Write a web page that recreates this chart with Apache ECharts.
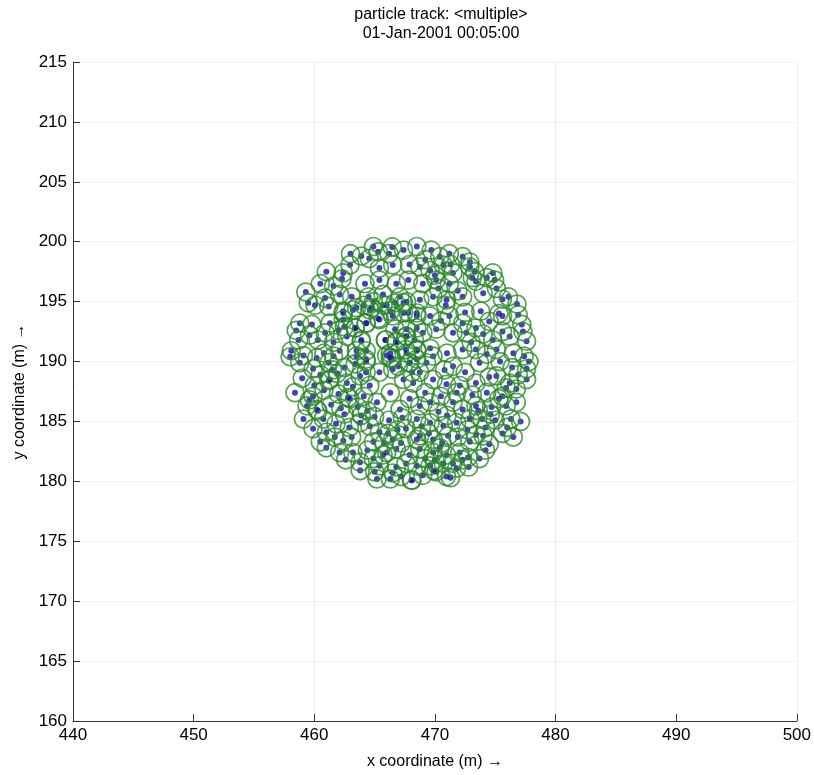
<!DOCTYPE html>
<html>
<head>
<meta charset="utf-8">
<script src="https://cdn.jsdelivr.net/npm/echarts@6/dist/echarts.min.js"></script>
<style>
html,body{margin:0;padding:0;background:#fff;}
#chart{width:814px;height:775px;}
</style>
</head>
<body>
<div id="chart"></div>
<script>
// Chart text
const titleLines = ['particle track: <multiple>', '01-Jan-2001 00:05:00'];
const xAxisName = 'x coordinate (m) \u2192';
const yAxisName = 'y coordinate (m) \u2192';

// Axis ranges / ticks
const xRange = [440, 500];
const xTickStep = 10;
const xGridStep = 20;
const yRange = [160, 215];
const yTickStep = 5;

// Particle positions
const particleX = [
466.46,465.3,467.4,464.56,463.9,465.4,466.5,462.96,462.4,461.6,460.5,464.2,465.4,466.8,467.8,
462.1,463.1,464.5,465.7,467.1,459.5,460.06,461.2,462.4,463.5,464.6,466.0,467.4,
458.8,459.8,461.3,462.4,463.4,464.3,465.4,466.5,467.8,458.7,458.1,460.3,461.6,462.7,463.9,465.9,466.8,467.6,
459.1,460.8,462.1,463.5,466.0,467.6,
468.5,469.7,470.4,472.3,468.75,469.6,470.7,471.5,472.9,469.0,470.1,471.2,473.4,474.95,
468.75,469.85,470.96,472.3,474.0,475.1,476.1,468.5,469.6,471.2,472.3,473.4,474.5,475.6,476.9,477.2,
469.0,470.1,471.5,472.6,474.0,474.8,476.2,477.6,468.5,469.6,471.0,472.3,473.4,475.1,476.5,
458.0,458.8,460.2,461.6,463.5,464.3,466.3,467.9,458.4,459.9,461.3,462.7,463.8,464.6,465.4,466.5,467.4,468.2,
459.1,460.2,460.75,462.0,462.95,464.1,465.2,466.3,467.1,467.9,459.9,461.0,462.4,463.8,464.9,465.4,466.5,467.6,468.5,
461.0,462.1,463.2,463.8,464.9,466.0,466.8,467.9,463.8,465.2,466.3,467.2,465.4,466.8,468.1,
468.5,469.85,471.5,473.7,475.4,477.4,475.1,476.2,477.6,468.75,469.85,470.96,472.06,473.4,474.3,475.6,476.75,
468.75,469.6,470.5,471.5,472.3,473.4,474.7,475.9,476.75,468.5,469.6,470.7,471.8,472.9,473.9,475.0,475.6,
468.75,469.85,471.1,471.9,472.9,474.0,474.5,468.75,469.85,470.96,472.06,472.75,473.7,
468.5,469.6,470.7,471.8,470.1,470.96,468.06,469.0,
462.4,463.2,464.1,464.75,465.7,466.7,467.65,468.5,462.5,463.4,464.3,465.3,466.3,467.4,
463.9,465.9,466.8,467.65,468.3,466.7,467.65,468.5,464.3,466.3,466.4,467.65,468.5,
462.5,463.4,464.3,466.96,467.9,468.1,464.3,
461.0,463.0,464.9,467.9,459.3,460.9,458.5,459.6,460.9,462.0,461.2,459.9,
469.2,471.2,470.3,471.9,473.3,474.3,475.6,476.8,472.5,473.8,470.5,473.0,475.6,477.3,474.3,477.6,
459.0,460.5,461.9,463.2,460.8,459.4,461.4,462.5,463.6,465.0,466.2,467.3,461.8,460.5,463.1,464.4,465.8,467.2,465.0,466.5,462.6,467.6,
469.3,470.8,472.5,474.5,476.4,469.2,471.8,473.1,470.3,471.0,474.2,476.3,469.5,470.6,472.7,473.4,471.5,472.8,469.2,470.0,
476.9,477.8,475.3,476.0,474.6,473.6,475.9,474.2,476.5,477.1,
459.6,460.3,461.7,462.9,460.0,461.2,462.2,463.9,464.6,466.1,
469.9,471.3,472.3,470.4,468.9,466.9,465.7,464.4,462.8,461.5,
473.1,474.8,470.0,471.3,472.9,475.3,462.3,464.9,466.2,470.9
];
const particleY = [
199.57,199.16,199.3,198.6,198.8,197.8,198.06,198.06,197.4,196.3,196.5,196.5,196.8,196.5,196.8,
195.6,195.4,195.4,195.6,195.4,194.9,194.7,194.6,194.2,194.5,194.3,194.7,194.9,
193.2,193.1,193.2,193.5,192.8,193.2,193.5,193.8,194.05,191.8,190.9,191.8,191.6,192.1,191.8,191.8,191.6,192.1,
190.5,190.7,190.9,190.9,190.5,191.0,
199.6,199.3,198.75,198.75,197.9,197.6,198.05,197.4,197.9,196.5,196.8,196.5,196.7,196.8,
195.15,195.4,195.15,195.4,195.7,196.1,195.4,193.8,193.8,193.8,193.2,192.8,193.35,193.8,193.9,193.1,
192.4,192.7,192.4,192.4,192.3,191.8,192.1,191.7,191.0,191.1,190.7,191.0,191.0,191.0,190.7,
190.4,189.9,190.3,190.45,190.45,190.2,190.3,189.9,187.4,187.1,188.5,188.2,188.8,188.0,189.1,189.35,188.5,188.2,
185.2,186.0,185.2,187.3,186.9,187.1,186.6,187.4,186.0,186.9,184.4,184.1,183.4,184.9,183.3,184.1,183.5,184.4,183.5,
182.8,182.4,182.4,181.6,181.9,182.4,182.7,182.2,180.9,180.2,180.2,180.4,181.3,181.2,180.1,
190.2,190.45,189.6,189.9,190.0,190.45,188.8,188.2,188.5,189.1,188.5,188.1,188.0,188.2,187.4,187.1,187.7,
186.3,186.6,187.1,186.6,186.0,186.3,186.2,186.3,186.6,185.2,184.9,184.65,184.9,185.2,185.2,185.1,184.0,
183.8,183.5,183.8,183.7,183.3,183.8,183.1,182.7,182.4,182.2,182.4,182.0,181.9,
181.3,181.3,181.5,181.1,180.8,180.4,180.1,180.5,
194.05,194.3,194.7,194.5,194.7,194.9,195.0,194.05,192.9,192.8,193.2,193.6,194.2,194.05,
191.7,191.8,191.7,192.1,191.8,192.7,192.7,192.8,190.9,190.7,190.3,190.7,190.9,
189.5,189.8,190.0,189.6,189.9,189.1,189.1,
197.5,199.0,199.6,198.1,195.8,195.3,192.6,192.2,192.4,192.6,189.9,189.4,
198.5,199.0,196.1,195.9,197.5,197.0,195.2,194.8,194.1,194.2,193.4,191.6,192.5,192.5,190.6,189.4,
188.6,188.9,189.0,187.9,187.6,186.3,186.4,185.6,186.2,185.4,185.1,185.3,184.8,183.3,183.7,182.6,183.2,183.2,180.8,180.7,181.8,181.5,
189.9,189.3,189.1,188.7,189.5,187.4,187.4,187.2,185.8,185.5,184.5,185.2,184.0,183.2,184.3,183.9,181.5,181.2,181.9,181.8,
188.9,190.0,186.9,184.5,185.6,185.9,187.8,182.6,183.7,185.0,
186.8,185.9,183.7,184.5,188.0,188.4,186.1,185.5,184.6,184.0,
180.9,180.3,181.8,182.8,184.6,184.3,182.2,185.9,187.0,189.3,
197.0,197.4,197.2,198.1,198.3,194.0,196.9,195.0,199.0,194.7
];

const points = particleX.map((x, i) => [x, particleY[i]]);

const FONT = '"Liberation Sans", Arial, Helvetica, sans-serif';
const chart = echarts.init(document.getElementById('chart'), null, {renderer: 'canvas'});

chart.setOption({
  backgroundColor: '#ffffff',
  animation: false,
  title: {
    text: titleLines.join('\n'),
    left: 436, top: 0, textAlign: 'center',
    textStyle: {fontFamily: FONT, fontSize: 16, fontWeight: 'normal', color: '#000', lineHeight: 19}
  },
  grid: {left: 73, right: 16, top: 62, bottom: 50, containLabel: false},
  xAxis: [{
    type: 'value', min: xRange[0], max: xRange[1], interval: xTickStep,
    name: xAxisName, nameLocation: 'middle', nameGap: 33,
    nameTextStyle: {fontFamily: FONT, fontSize: 16, color: '#000'},
    axisLine: {show: true, lineStyle: {color: '#333', width: 1}},
    axisTick: {show: true, inside: true, length: 7, lineStyle: {color: '#333'}},
    axisLabel: {fontFamily: FONT, fontSize: 17, color: '#000', margin: 6},
    splitLine: {show: false}
  }, {
    type: 'value', min: xRange[0], max: xRange[1], interval: xGridStep,
    position: 'bottom', show: true,
    axisLine: {show: false}, axisTick: {show: false}, axisLabel: {show: false},
    splitLine: {show: true, lineStyle: {color: '#eeeeee', width: 1}}
  }],
  yAxis: {
    type: 'value', min: yRange[0], max: yRange[1], interval: yTickStep,
    name: yAxisName, nameLocation: 'middle', nameGap: 44, nameRotate: 90,
    nameTextStyle: {fontFamily: FONT, fontSize: 16, color: '#000'},
    axisLine: {show: true, lineStyle: {color: '#333', width: 1}},
    axisTick: {show: true, inside: true, length: 7, lineStyle: {color: '#333'}},
    axisLabel: {fontFamily: FONT, fontSize: 17, color: '#000', margin: 6},
    splitLine: {show: true, lineStyle: {color: '#f0f0f0', width: 1}}
  },
  series: [{
    type: 'scatter', data: points, symbol: 'circle', symbolSize: 6,
    itemStyle: {color: '#1414a0'}, z: 2, silent: true
  }, {
    type: 'scatter', data: points, symbol: 'circle', symbolSize: 18,
    itemStyle: {color: 'rgba(0,0,0,0)', borderColor: '#2a8a2a', borderWidth: 1.7}, z: 3, silent: true
  }]
});
</script>
</body>
</html>
